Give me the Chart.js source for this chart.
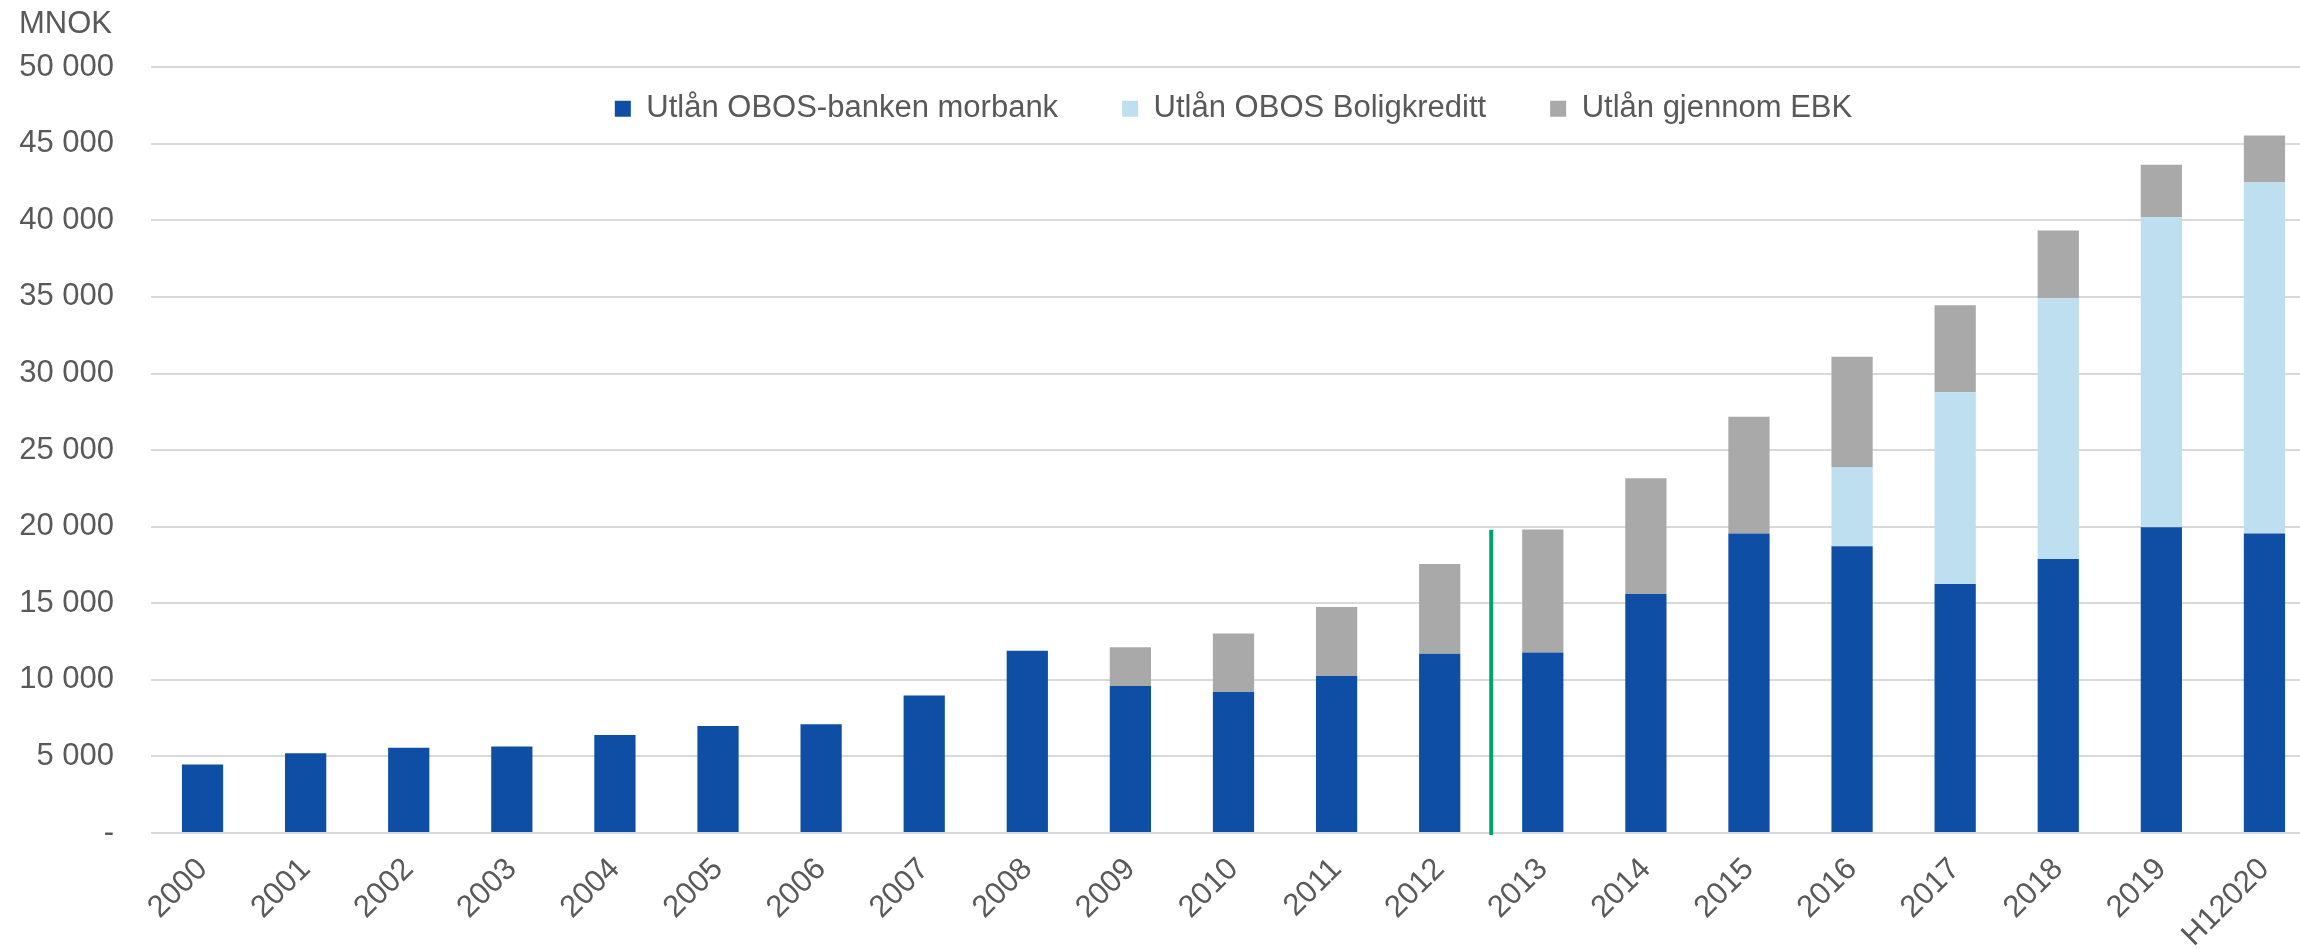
<!DOCTYPE html>
<html lang="no">
<head>
<meta charset="utf-8">
<title>Utlån OBOS-banken</title>
<script src="https://cdn.jsdelivr.net/npm/chart.js@4.4.1/dist/chart.umd.min.js"></script>
<style>
  html, body { margin: 0; padding: 0; background: #fff; overflow: hidden; }
  #wrap { position: absolute; left: 0; top: 0; width: 2316px; height: 949px; }
</style>
</head>
<body>
<div id="wrap"><canvas id="utlanChart" width="2316" height="949"></canvas></div>
<script>
// Data (MNOK), lest av figuren
var aar = ['2000', '2001', '2002', '2003', '2004', '2005', '2006', '2007', '2008', '2009', '2010',
           '2011', '2012', '2013', '2014', '2015', '2016', '2017', '2018', '2019', 'H12020'];
var morbank = [4480, 5200, 5570, 5640, 6400, 6980, 7100, 8970, 11900, 9600, 9200,
               10250, 11710, 11780, 15600, 19560, 18730, 16250, 17890, 19970, 19560];
var boligkreditt = [null, null, null, null, null, null, null, null, null, null, null,
                    null, null, null, null, null, 5140, 12520, 17030, 20240, 22910];
var ebk = [null, null, null, null, null, null, null, null, null, 2520, 3830,
           4500, 5850, 8040, 7570, 7620, 7230, 5690, 4420, 3420, 3070];

var yMaks = 50000;
var ySteg = 5000;

// grønn skillelinje mellom 2012 og 2013
var skilleEtter = '2012';
var skilleTopp = 19800;

var tekstFarge = '#595959';
var font = '"Liberation Sans", Arial, sans-serif';

function formaterTall(v) {
    if (v === 0) {
        return '-';
    }
    return String(v).replace(/\B(?=(\d{3})+(?!\d))/g, ' ');
}

var skillelinje = {
    id: 'skillelinje',
    afterDatasetsDraw: function(chart) {
        var x = chart.scales.x;
        var y = chart.scales.y;
        var i = aar.indexOf(skilleEtter);
        var px = (x.getPixelForValue(i) + x.getPixelForValue(i + 1)) / 2;
        var ctx = chart.ctx;
        ctx.save();
        ctx.strokeStyle = '#00A36C';
        ctx.lineWidth = 4;
        ctx.beginPath();
        ctx.moveTo(px, y.getPixelForValue(skilleTopp));
        ctx.lineTo(px, y.getPixelForValue(0) + 2);
        ctx.stroke();
        ctx.restore();
    }
};

// legenden ligger inne i plottet, like under øverste gridlinje
var flyttLegend = {
    id: 'flyttLegend',
    afterLayout: function(chart) {
        var l = chart.legend;
        if (!l) return;
        l.left = chart.chartArea.left;
        l.right = chart.chartArea.right;
        l.top = chart.chartArea.top - 38;
        l.bottom = chart.chartArea.top + 100;
        l.width = l.right - l.left;
        l.height = l.bottom - l.top;
    }
};

function lagDiagram() {
    var config = {
        type: 'bar',
        data: {
            labels: aar,
            datasets: [
                { label: 'Utlån OBOS-banken morbank', data: morbank, backgroundColor: '#0E4FA5' },
                { label: 'Utlån OBOS Boligkreditt', data: boligkreditt, backgroundColor: '#BDDFF0' },
                { label: 'Utlån gjennom EBK', data: ebk, backgroundColor: '#A9A9A9' }
            ]
        },
        options: {
            responsive: false,
            animation: false,
            categoryPercentage: 1,
            barPercentage: 0.4,
            layout: { padding: { left: 19, right: 0, top: 0, bottom: 0 } },
            plugins: {
                title: {
                    display: true,
                    text: 'MNOK',
                    align: 'start',
                    color: tekstFarge,
                    font: { family: font, size: 31, weight: 'normal' },
                    padding: { top: 6, bottom: 24 }
                },
                legend: {
                    position: 'top',
                    align: 'center',
                    maxHeight: 0.01,
                    labels: {
                        boxWidth: 16,
                        boxHeight: 16,
                        padding: 64,
                        color: tekstFarge,
                        font: { family: font, size: 31 }
                    }
                },
                tooltip: { enabled: false }
            },
            scales: {
                x: {
                    stacked: true,
                    grid: { display: false },
                    border: { display: false },
                    ticks: {
                        color: tekstFarge,
                        font: { family: font, size: 31 },
                        minRotation: 45,
                        maxRotation: 45,
                        padding: 10
                    },
                    afterFit: function(scale) {
                        scale.height = 116;
                    }
                },
                y: {
                    stacked: true,
                    min: 0,
                    max: yMaks,
                    border: { display: false },
                    grid: { color: '#D9D9D9', lineWidth: 2, drawTicks: false },
                    ticks: {
                        stepSize: ySteg,
                        color: tekstFarge,
                        font: { family: font, size: 31 },
                        padding: 37,
                        callback: function(v) { return formaterTall(v); }
                    },
                    afterFit: function(scale) {
                        scale.width = 132;
                    }
                }
            }
        },
        plugins: [skillelinje, flyttLegend]
    };

    var diagram = new Chart(document.getElementById('utlanChart'), config);
}

lagDiagram();
</script>
</body>
</html>
